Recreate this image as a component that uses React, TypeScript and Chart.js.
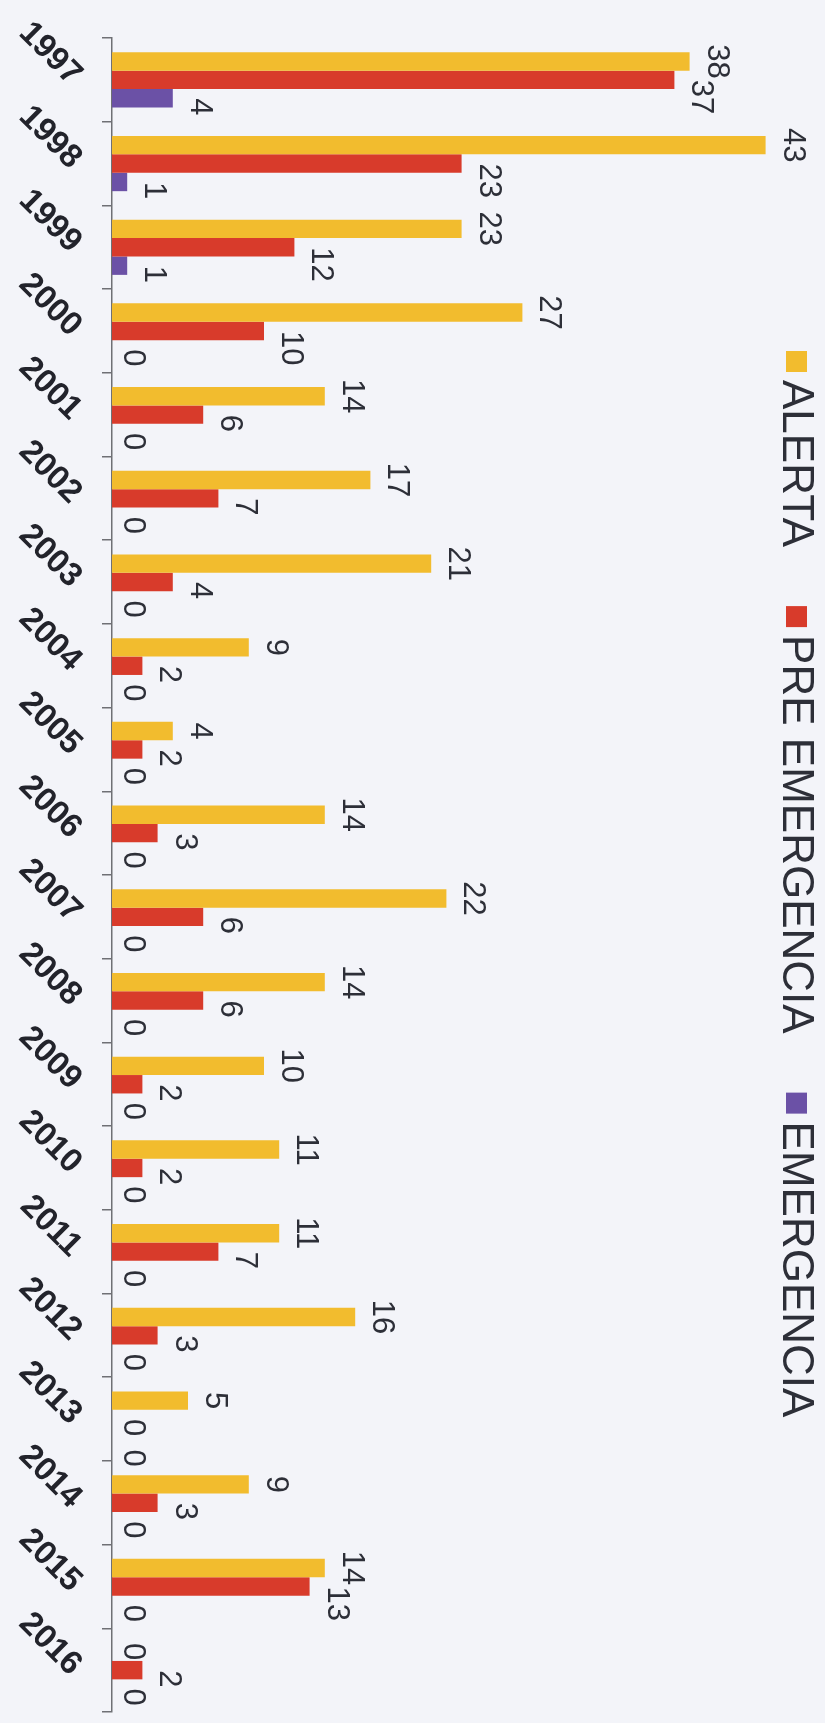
import React, { useEffect, useRef } from "react";
import { Chart, registerables } from "chart.js";

Chart.register(...registerables);

const years = ["1997", "1998", "1999", "2000", "2001", "2002", "2003", "2004", "2005", "2006", "2007", "2008", "2009", "2010", "2011", "2012", "2013", "2014", "2015", "2016"];
const alerta = [38, 43, 23, 27, 14, 17, 21, 9, 4, 14, 22, 14, 10, 11, 11, 16, 5, 9, 14, 0];
const preEmergencia = [37, 23, 12, 10, 6, 7, 4, 2, 2, 3, 6, 6, 2, 2, 7, 3, 0, 3, 13, 2];
const emergencia = [4, 1, 1, 0, 0, 0, 0, 0, 0, 0, 0, 0, 0, 0, 0, 0, 0, 0, 0, 0];
const seriesNames = ["ALERTA", "PRE EMERGENCIA", "EMERGENCIA"];
const seriesColors = ["#F2BC2E", "#D83B2B", "#6B51A6"];

const FONT = "'Liberation Sans', Arial, sans-serif";
const TEXT_COLOR = "#2d2f38";
const BG = "#f3f4f9";

const valueLabelPlugin = {
  id: "valueLabels",
  afterDatasetsDraw(chart: any) {
    const ctx = chart.ctx;
    ctx.save();
    ctx.font = `31px ${FONT}`;
    ctx.fillStyle = TEXT_COLOR;
    ctx.textBaseline = "alphabetic";
    chart.data.datasets.forEach((ds: any, di: number) => {
      const meta = chart.getDatasetMeta(di);
      meta.data.forEach((bar: any, i: number) => {
        const v = ds.data[i];
        const gap = v === 0 ? 12 : 18;
        // purple zero label drops a little when the red one above is also zero
        const shift = di === 2 && v === 0 && chart.data.datasets[1].data[i] === 0 ? 12 : 0;
        ctx.save();
        ctx.translate(bar.x + gap, bar.y + shift);
        ctx.rotate(Math.PI / 2);
        ctx.textAlign = di === 0 ? "center" : "left";
        ctx.fillText(String(v), 0, 0);
        ctx.restore();
      });
    });
    ctx.restore();
  },
};

const verticalLegendPlugin = {
  id: "verticalLegend",
  afterDraw(chart: any) {
    const ctx = chart.ctx;
    ctx.save();
    ctx.font = `44px ${FONT}`;
    ctx.textBaseline = "alphabetic";
    ctx.textAlign = "left";
    let y = 351;
    const box = 21;
    const xBox = 786;
    const xText = 783;
    chart.data.datasets.forEach((ds: any) => {
      ctx.fillStyle = ds.backgroundColor;
      ctx.fillRect(xBox, y, box, box);
      y += box + 8;
      ctx.fillStyle = TEXT_COLOR;
      ctx.save();
      ctx.translate(xText, y);
      ctx.rotate(Math.PI / 2);
      ctx.fillText(ds.label, 0, 0);
      ctx.restore();
      y += ctx.measureText(ds.label).width + 59;
    });
    ctx.restore();
  },
};

export default function App() {
  const ref = useRef<HTMLCanvasElement>(null);

  useEffect(() => {
    document.body.style.margin = "0";
    document.body.style.background = BG;
    const canvas = ref.current!;
    const chart = new Chart(canvas, {
      type: "bar",
      data: {
        labels: years,
        datasets: [
          { label: seriesNames[0], data: alerta, backgroundColor: seriesColors[0] },
          { label: seriesNames[1], data: preEmergencia, backgroundColor: seriesColors[1] },
          { label: seriesNames[2], data: emergencia, backgroundColor: seriesColors[2] },
        ],
      },
      options: {
        indexAxis: "y",
        responsive: false,
        animation: false,
        maintainAspectRatio: false,
        layout: { padding: { top: 38, bottom: 11, right: 29, left: 0 } },
        datasets: {
          bar: { categoryPercentage: 0.66, barPercentage: 1.0, borderWidth: 0 },
        },
        plugins: {
          legend: { display: false },
          tooltip: { enabled: false },
        },
        scales: {
          x: { display: false, min: 0, max: 45 },
          y: {
            afterFit: (s: any) => {
              s.width = 112;
              s.paddingTop = 0;
              s.paddingBottom = 0;
            },
            grid: {
              display: true,
              drawOnChartArea: false,
              drawTicks: true,
              tickLength: 10,
              offset: true,
              color: "#6f7075",
              lineWidth: 1.5,
            },
            border: { display: true, color: "#6f7075", width: 1.5 },
            ticks: {
              color: "#22232b",
              font: { family: FONT, size: 33, weight: "bold" },
              minRotation: -45,
              maxRotation: -45,
              padding: 26,
              autoSkip: false,
            },
          },
        },
      },
      plugins: [valueLabelPlugin, verticalLegendPlugin],
    });
    return () => chart.destroy();
  }, []);

  return (
    <div style={{ width: 825, height: 1723, background: BG }}>
      <canvas ref={ref} width={825} height={1723} style={{ display: "block" }} />
    </div>
  );
}
